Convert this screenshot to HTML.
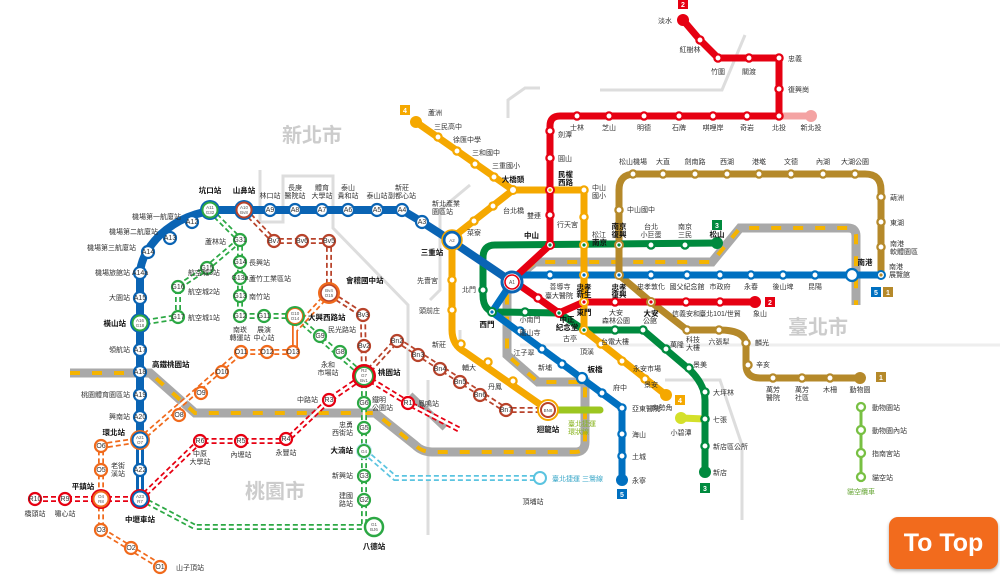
<!DOCTYPE html>
<html><head><meta charset="utf-8"><style>
body{margin:0;background:#fff;width:1000px;height:584px;overflow:hidden;font-family:"Liberation Sans","Noto Sans CJK TC",sans-serif}
svg{position:absolute;left:0;top:0}
text{font-family:"Liberation Sans","Noto Sans CJK TC",sans-serif;font-size:7px;fill:#333;text-anchor:middle}
.s{text-anchor:start}.e{text-anchor:end}.b{font-weight:bold;font-size:7.5px;fill:#111}
.st{fill:#fff;stroke-width:2.3}
.tc{fill:#fff;stroke-width:2.2}
.in{font-size:4.5px;fill:#555}
.big{font-size:20px;fill:#ccc;font-weight:bold}
#tt{position:absolute;left:889px;top:517px;width:109px;height:52px;background:#f26b1d;border-radius:9px;color:#fff;font:bold 25px "Liberation Sans",sans-serif;text-align:center;line-height:52px;box-shadow:0 2px 3px #aaa}
</style></head><body>
<svg width="1000" height="584" viewBox="0 0 1000 584">
<!-- district boundaries -->
<g fill="none" stroke="#ddd" stroke-width="3">
<path d="M260,170 L260,222 L283,222 L283,176 L333,176 L333,228 L408,305 L408,395"/>
<path d="M428,380 L428,535"/>
<path d="M600,90 L722,90 L745,35"/>
<path d="M508,118 L508,100 L525,88 L540,88"/>
<path d="M430,300 L440,290 L440,210 L470,185"/>
<path d="M0,300 L0,300"/>
<path d="M665,380 L720,380 L742,445 L742,520"/>
<path d="M520,345 L560,345 L600,345 L1000,345" stroke="#eee"/>
<path d="M460,330 L460,350"/>
</g>
<text x="312" y="142" class="big">新北市</text>
<text x="818" y="334" class="big">臺北市</text>
<text x="275" y="498" class="big">桃園市</text>

<!-- railways -->
<path d="M70,373 L150,373 L195,413 L375,413 L415,445 Q422,452 432,452 L575,452 Q585,452 585,442 L585,382 L538,382 L507,355 L507,285 L535,262 L712,262 L740,228 L848,228 Q856,228 856,236 L856,305" fill="none" stroke="#a9a9a9" stroke-width="9"/>
<path d="M70,373 L150,373 L195,413 L375,413 L415,445 Q422,452 432,452 L575,452 Q585,452 585,442 L585,382 L538,382 L507,355 L507,285 L535,262 L712,262 L740,228 L848,228 Q856,228 856,236 L856,305" fill="none" stroke="#f5b400" stroke-width="4" stroke-dasharray="10 12"/>
<path d="M410,395 L445,428" stroke="#a9a9a9" stroke-width="7"/>

<!-- Taoyuan dashed planned lines (double dashed) -->
<g fill="none" stroke-dasharray="5 3">
<path d="M35,499 L140,499 L200,441 L286,441 L329,400 L364,376 L408,403 L460,430" stroke="#e60012" stroke-width="6"/>
<path d="M35,499 L140,499 L200,441 L286,441 L329,400 L364,376 L408,403 L460,430" stroke="#fff" stroke-width="2.5" stroke-dasharray="none"/>
<path d="M210,210 L240,240 L240,316 L295,316 L364,376 L364,527 M140,498 L195,527 L364,527 M240,240 L207,268 L178,287 L178,317 L140,323" stroke="#2ca844" stroke-width="6"/>
<path d="M210,210 L240,240 L240,316 L295,316 L364,376 L364,527 M140,498 L195,527 L364,527 M240,240 L207,268 L178,287 L178,317 L140,323" stroke="#fff" stroke-width="2.5" stroke-dasharray="none"/>
<path d="M329,293 L295,330 L295,352 L241,352 L140,440 L101,446 L101,530 L160,566 M295,316 L295,352" stroke="#f06a1c" stroke-width="6"/>
<path d="M329,293 L295,330 L295,352 L241,352 L140,440 L101,446 L101,530 L160,566 M295,316 L295,352" stroke="#fff" stroke-width="2.5" stroke-dasharray="none"/>
<path d="M244,210 L274,241 L329,241 L329,293 L363,315 L364,376 M364,376 L397,340 L506,410 L548,410" stroke="#b8432b" stroke-width="6"/>
<path d="M244,210 L274,241 L329,241 L329,293 L363,315 L364,376 M364,376 L397,340 L506,410 L548,410" stroke="#fff" stroke-width="2.5" stroke-dasharray="none"/>
<path d="M364,451 L395,478 L540,478" stroke="#5bc4e0" stroke-width="6"/>
<path d="M364,451 L395,478 L540,478" stroke="#fff" stroke-width="2.5" stroke-dasharray="none"/>
</g>

<!-- MRT lines -->
<g fill="none" stroke-linejoin="round" stroke-linecap="round">
<path d="M548,410 L600,410" stroke="#9cc620" stroke-width="7"/>
<path d="M681,418 L705,419" stroke="#d4e02a" stroke-width="7"/>
<path d="M861,407 L861,477" stroke="#78c043" stroke-width="3"/>
<path d="M881,275 L881,190 Q881,174 865,174 L635,174 Q619,174 619,190 L619,275 L651,302 L687,330 L719,330 Q746,330 746,345 L746,365 Q746,378 760,378 L860,378" stroke="#b5892a" stroke-width="7"/>
<path d="M717,243 L495,245 Q483,245 483,258 L483,295 Q483,312 497,312 L559,313 L584,330 L643,330 L690,370 Q705,385 705,400 L705,472" stroke="#008a3e" stroke-width="7"/>
<path d="M416,122 L513,190 L584,190 L584,330 L666,395 M513,190 L452,238 L452,330 Q452,345 465,352 L548,410" stroke="#f5a800" stroke-width="7"/>
<path d="M881,275 L520,275 L512,282 L492,312 L622,408 L622,480" stroke="#0070c0" stroke-width="7"/>
<path d="M512,282 L450,240 L422,222 L402,210 L220,210 Q185,212 160,235 Q140,255 140,275 L140,500" stroke="#0a64b4" stroke-width="8"/>
<path d="M140,440 L140,500" stroke="#fff" stroke-width="2"/>
<path d="M779,116 L811,116" stroke="#f4a3a3" stroke-width="7"/>
<path d="M683,20 L700,40 L718,58 L779,58 L779,116 L560,116 Q550,116 550,126 L550,245 L512,280 L535,296 L559,313 L584,302 L755,302" stroke="#e60012" stroke-width="7"/>
</g>
<!-- end dots -->
<g>
<circle cx="683" cy="20" r="6" fill="#e60012"/><circle cx="811" cy="116" r="6" fill="#f4a3a3"/>
<circle cx="755" cy="302" r="6" fill="#e60012"/><circle cx="416" cy="122" r="6" fill="#f5a800"/>
<circle cx="666" cy="395" r="6" fill="#f5a800"/><circle cx="717" cy="243" r="6" fill="#008a3e"/>
<circle cx="705" cy="472" r="6" fill="#008a3e"/><circle cx="622" cy="480" r="6" fill="#0070c0"/>
<circle cx="860" cy="378" r="6" fill="#b5892a"/><circle cx="681" cy="418" r="6" fill="#d4e02a"/>
</g>
<!-- red stations -->
<g class="st" stroke="#e60012">
<circle cx="700" cy="40" r="3.6"/><circle cx="718" cy="58" r="3.6"/><circle cx="749" cy="58" r="3.6"/><circle cx="779" cy="58" r="3.6"/><circle cx="779" cy="89" r="3.6"/><circle cx="779" cy="116" r="3.6"/><circle cx="747" cy="116" r="3.6"/><circle cx="713" cy="116" r="3.6"/><circle cx="679" cy="116" r="3.6"/><circle cx="644" cy="116" r="3.6"/><circle cx="609" cy="116" r="3.6"/><circle cx="577" cy="116" r="3.6"/><circle cx="550" cy="131" r="3.6"/><circle cx="550" cy="158" r="3.6"/><circle cx="550" cy="215" r="3.6"/><circle cx="538" cy="298" r="3.6"/><circle cx="615" cy="302" r="3.6"/><circle cx="686" cy="302" r="3.6"/><circle cx="720" cy="302" r="3.6"/>
</g>
<g class="st" stroke="#f5a800">
<circle cx="438" cy="137" r="3.6"/><circle cx="457" cy="151" r="3.6"/><circle cx="475" cy="164" r="3.6"/><circle cx="494" cy="177" r="3.6"/><circle cx="493" cy="206" r="3.6"/><circle cx="474" cy="221" r="3.6"/><circle cx="452" cy="280" r="3.6"/><circle cx="452" cy="310" r="3.6"/><circle cx="461" cy="344" r="3.6"/><circle cx="488" cy="362" r="3.6"/><circle cx="513" cy="381" r="3.6"/><circle cx="584" cy="190" r="3.6"/><circle cx="584" cy="217" r="3.6"/><circle cx="601" cy="344" r="3.6"/><circle cx="622" cy="361" r="3.6"/><circle cx="645" cy="379" r="3.6"/>
</g>
<g class="st" stroke="#0070c0">
<circle cx="550" cy="275" r="3.6"/><circle cx="651" cy="275" r="3.6"/><circle cx="687" cy="275" r="3.6"/><circle cx="720" cy="275" r="3.6"/><circle cx="751" cy="275" r="3.6"/><circle cx="783" cy="275" r="3.6"/><circle cx="815" cy="275" r="3.6"/><circle cx="852" cy="275" r="6"/><circle cx="520" cy="331" r="3.6"/><circle cx="542" cy="349" r="3.6"/><circle cx="562" cy="364" r="3.6"/><circle cx="582" cy="378" r="5"/><circle cx="602" cy="393" r="3.6"/><circle cx="622" cy="408" r="3.6"/><circle cx="622" cy="434" r="3.6"/><circle cx="622" cy="456" r="3.6"/>
</g>
<g class="st" stroke="#008a3e">
<circle cx="685" cy="245" r="3.6"/><circle cx="651" cy="245" r="3.6"/><circle cx="483" cy="290" r="3.6"/><circle cx="525" cy="312" r="3.6"/><circle cx="615" cy="330" r="3.6"/><circle cx="643" cy="330" r="3.6"/><circle cx="666" cy="349" r="3.6"/><circle cx="689" cy="368" r="3.6"/><circle cx="705" cy="392" r="3.6"/><circle cx="705" cy="419" r="3.6"/><circle cx="705" cy="446" r="3.6"/>
</g>
<g class="st" stroke="#b5892a">
<circle cx="881" cy="247" r="3.6"/><circle cx="881" cy="222" r="3.6"/><circle cx="881" cy="197" r="3.6"/><circle cx="855" cy="174" r="3.6"/><circle cx="823" cy="174" r="3.6"/><circle cx="791" cy="174" r="3.6"/><circle cx="759" cy="174" r="3.6"/><circle cx="727" cy="174" r="3.6"/><circle cx="695" cy="174" r="3.6"/><circle cx="663" cy="174" r="3.6"/><circle cx="633" cy="174" r="3.6"/><circle cx="619" cy="210" r="3.6"/><circle cx="687" cy="330" r="3.6"/><circle cx="719" cy="330" r="3.6"/><circle cx="746" cy="343" r="3.6"/><circle cx="748" cy="365" r="3.6"/><circle cx="773" cy="378" r="3.6"/><circle cx="802" cy="378" r="3.6"/><circle cx="830" cy="378" r="3.6"/>
</g>
<g class="st" stroke="#78c043"><circle cx="861" cy="407" r="4"/><circle cx="861" cy="430" r="4"/><circle cx="861" cy="453" r="4"/><circle cx="861" cy="477" r="4"/></g>
<!-- transfer stations -->
<g>
<circle cx="550" cy="190" r="4" fill="#fff" stroke="#e60012" stroke-width="2"/><circle cx="550" cy="190" r="1.6" fill="#f5a800"/>
<circle cx="513" cy="190" r="4" fill="#fff" stroke="#f5a800" stroke-width="2"/>
<circle cx="550" cy="245" r="4" fill="#fff" stroke="#e60012" stroke-width="2"/><circle cx="550" cy="245" r="1.6" fill="#008a3e"/>
<circle cx="584" cy="245" r="4" fill="#fff" stroke="#f5a800" stroke-width="2"/><circle cx="584" cy="245" r="1.6" fill="#008a3e"/>
<circle cx="619" cy="245" r="4" fill="#fff" stroke="#b5892a" stroke-width="2"/><circle cx="619" cy="245" r="1.6" fill="#008a3e"/>
<circle cx="584" cy="275" r="4" fill="#fff" stroke="#f5a800" stroke-width="2"/><circle cx="584" cy="275" r="1.6" fill="#0070c0"/>
<circle cx="619" cy="275" r="4" fill="#fff" stroke="#b5892a" stroke-width="2"/><circle cx="619" cy="275" r="1.6" fill="#0070c0"/>
<circle cx="584" cy="302" r="4" fill="#fff" stroke="#f5a800" stroke-width="2"/><circle cx="584" cy="302" r="1.6" fill="#e60012"/>
<circle cx="651" cy="302" r="4" fill="#fff" stroke="#b5892a" stroke-width="2"/><circle cx="651" cy="302" r="1.6" fill="#e60012"/>
<circle cx="559" cy="313" r="4" fill="#fff" stroke="#e60012" stroke-width="2"/><circle cx="559" cy="313" r="1.6" fill="#008a3e"/>
<circle cx="584" cy="330" r="4" fill="#fff" stroke="#f5a800" stroke-width="2"/><circle cx="584" cy="330" r="1.6" fill="#008a3e"/>
<circle cx="492" cy="312" r="4" fill="#fff" stroke="#008a3e" stroke-width="2"/><circle cx="492" cy="312" r="1.6" fill="#0070c0"/>
<circle cx="881" cy="275" r="4" fill="#fff" stroke="#0070c0" stroke-width="2"/><circle cx="881" cy="275" r="1.6" fill="#b5892a"/>
<circle cx="705" cy="419" r="3.6" fill="#fff" stroke="#008a3e" stroke-width="2.3"/>
<circle cx="512" cy="282" r="10" fill="#fff" stroke="#0a64b4" stroke-width="3"/><circle cx="512" cy="282" r="7" fill="#fff" stroke="#e60012" stroke-width="1.6"/><text x="512" y="284" class="in" style="font-size:5px">A1</text>
<circle cx="452" cy="240" r="8" fill="#fff" stroke="#0a64b4" stroke-width="3"/><circle cx="452" cy="240" r="10" fill="none" stroke="#f5a800" stroke-width="1.5"/><text x="452" y="242" class="in">A2</text>
<circle cx="548" cy="410" r="10" fill="#fff" stroke="#f5a800" stroke-width="2"/><circle cx="548" cy="410" r="7" fill="#fff" stroke="#b8432b" stroke-width="2"/><text x="548" y="412" class="in">BN8</text>
<circle cx="540" cy="478" r="6" fill="#fff" stroke="#5bc4e0" stroke-width="2"/>
</g>
<!-- airport stations -->
<g stroke="#0a64b4" class="tc">
<circle cx="422" cy="222" r="6"/><circle cx="402" cy="210" r="6"/><circle cx="377" cy="210" r="6"/><circle cx="348" cy="210" r="6"/><circle cx="322" cy="210" r="6"/><circle cx="295" cy="210" r="6"/><circle cx="270" cy="210" r="6"/><circle cx="192" cy="222" r="6"/><circle cx="170" cy="238" r="6"/><circle cx="148" cy="252" r="6"/><circle cx="140" cy="273" r="6"/><circle cx="140" cy="298" r="6"/><circle cx="140" cy="350" r="6"/><circle cx="140" cy="372" r="6"/><circle cx="140" cy="395" r="6"/><circle cx="140" cy="417" r="6"/><circle cx="140" cy="470" r="6"/>
</g>
<g class="in"><text x="422" y="224">A3</text><text x="402" y="212">A4</text><text x="377" y="212">A5</text><text x="348" y="212">A6</text><text x="322" y="212">A7</text><text x="295" y="212">A8</text><text x="270" y="212">A9</text><text x="192" y="224">A12</text><text x="170" y="240">A13</text><text x="148" y="254">A14</text><text x="140" y="275">A14a</text><text x="140" y="300">A15</text><text x="140" y="352">A17</text><text x="140" y="374">A18</text><text x="140" y="397">A19</text><text x="140" y="419">A20</text><text x="140" y="472">A22</text></g>
<!-- big transfer circles -->
<g>
<circle cx="210" cy="210" r="10" fill="#0a64b4"/><circle cx="210" cy="210" r="7.5" fill="#fff" stroke="#2ca844" stroke-width="2"/><text x="210" y="209" class="in">A11</text><text x="210" y="214" class="in">G32</text>
<circle cx="244" cy="210" r="10" fill="#0a64b4"/><circle cx="244" cy="210" r="7.5" fill="#fff" stroke="#b8432b" stroke-width="2"/><text x="244" y="209" class="in">A10</text><text x="244" y="214" class="in">Bv8</text>
<circle cx="140" cy="323" r="10" fill="#0a64b4"/><circle cx="140" cy="323" r="7.5" fill="#fff" stroke="#2ca844" stroke-width="2"/><text x="140" y="322" class="in">A16</text><text x="140" y="327" class="in">G18</text>
<circle cx="140" cy="440" r="10" fill="#f06a1c"/><circle cx="140" cy="440" r="7.5" fill="#fff" stroke="#0a64b4" stroke-width="2"/><text x="140" y="439" class="in">A21</text><text x="140" y="444" class="in">O7</text>
<circle cx="140" cy="499" r="10" fill="#e60012"/><circle cx="140" cy="499" r="7.5" fill="#fff" stroke="#0a64b4" stroke-width="2"/><text x="140" y="498" class="in">A23</text><text x="140" y="503" class="in">R7</text>
<circle cx="101" cy="499" r="10" fill="#e60012"/><circle cx="101" cy="499" r="7.5" fill="#fff" stroke="#f06a1c" stroke-width="2"/><text x="101" y="498" class="in">O4</text><text x="101" y="503" class="in">R8</text>
<circle cx="329" cy="293" r="11" fill="#f06a1c"/><circle cx="329" cy="293" r="8" fill="#fff" stroke="#b8432b" stroke-width="1.5"/><text x="329" y="292" class="in">Bv4</text><text x="329" y="297" class="in">O15</text>
<circle cx="295" cy="316" r="10" fill="#2ca844"/><circle cx="295" cy="316" r="7.5" fill="#fff" stroke="#f06a1c" stroke-width="1"/><text x="295" y="315" class="in">G10</text><text x="295" y="320" class="in">O14</text>
<circle cx="364" cy="376" r="12" fill="#e60012"/><circle cx="364" cy="376" r="9.5" fill="#2ca844"/><circle cx="364" cy="376" r="8" fill="#fff"/><text x="364" y="372" class="in">R2</text><text x="364" y="377" class="in">G7</text><text x="364" y="382" class="in">Bv1</text>
<circle cx="374" cy="527" r="9" fill="#fff" stroke="#2ca844" stroke-width="2.5"/><text x="374" y="526" class="in">G1</text><text x="374" y="531" class="in">BJ6</text>
<circle cx="364" cy="451" r="8" fill="#bfe6f2"/><circle cx="364" cy="451" r="6" fill="#fff" stroke="#2ca844" stroke-width="2"/><text x="364" y="453" class="in">G4</text>
</g>
<!-- Taoyuan small stations -->
<g class="tc" stroke="#e60012"><circle cx="35" cy="499" r="6"/><circle cx="65" cy="499" r="6"/><circle cx="200" cy="441" r="6"/><circle cx="241" cy="441" r="6"/><circle cx="286" cy="439" r="6"/><circle cx="329" cy="400" r="6"/><circle cx="408" cy="403" r="6"/></g>
<g class="in"><text x="35" y="501">R10</text><text x="65" y="501">R9</text><text x="200" y="443">R6</text><text x="241" y="443">R5</text><text x="286" y="441">R4</text><text x="329" y="402">R3</text><text x="408" y="405">R1</text></g>
<g class="tc" stroke="#2ca844"><circle cx="240" cy="240" r="6"/><circle cx="240" cy="262" r="6"/><circle cx="240" cy="278" r="6"/><circle cx="240" cy="296" r="6"/><circle cx="240" cy="316" r="6"/><circle cx="264" cy="316" r="6"/><circle cx="320" cy="336" r="6"/><circle cx="340" cy="352" r="6"/><circle cx="364" cy="403" r="6"/><circle cx="364" cy="428" r="6"/><circle cx="364" cy="476" r="6"/><circle cx="364" cy="500" r="6"/><circle cx="207" cy="268" r="6"/><circle cx="178" cy="287" r="6"/><circle cx="178" cy="317" r="6"/></g>
<g class="in"><text x="240" y="242">G31</text><text x="240" y="264">G14</text><text x="240" y="280">G13a</text><text x="240" y="298">G13</text><text x="240" y="318">G12</text><text x="264" y="318">G11</text><text x="320" y="338">G9</text><text x="340" y="354">G8</text><text x="364" y="405">G6</text><text x="364" y="430">G5</text><text x="364" y="478">G3</text><text x="364" y="502">G2</text><text x="207" y="270">G15</text><text x="178" y="289">G16</text><text x="178" y="319">G17</text></g>
<g class="tc" stroke="#f06a1c"><circle cx="293" cy="352" r="6"/><circle cx="267" cy="352" r="6"/><circle cx="241" cy="352" r="6"/><circle cx="222" cy="372" r="6"/><circle cx="201" cy="393" r="6"/><circle cx="179" cy="415" r="6"/><circle cx="101" cy="446" r="6"/><circle cx="101" cy="470" r="6"/><circle cx="101" cy="530" r="6"/><circle cx="131" cy="548" r="6"/><circle cx="160" cy="567" r="6"/></g>
<g class="in"><text x="293" y="354">O13</text><text x="267" y="354">O12</text><text x="241" y="354">O11</text><text x="222" y="374">O10</text><text x="201" y="395">O9</text><text x="179" y="417">O8</text><text x="101" y="448">O6</text><text x="101" y="472">O5</text><text x="101" y="532">O3</text><text x="131" y="550">O2</text><text x="160" y="569">O1</text></g>
<g class="tc" stroke="#b8432b"><circle cx="274" cy="241" r="6"/><circle cx="302" cy="241" r="6"/><circle cx="329" cy="241" r="6"/><circle cx="363" cy="315" r="6"/><circle cx="364" cy="346" r="6"/><circle cx="397" cy="341" r="6"/><circle cx="418" cy="355" r="6"/><circle cx="440" cy="369" r="6"/><circle cx="460" cy="382" r="6"/><circle cx="480" cy="395" r="6"/><circle cx="506" cy="410" r="6"/></g>
<g class="in"><text x="274" y="243">Bv7</text><text x="302" y="243">Bv6</text><text x="329" y="243">Bv5</text><text x="363" y="317">Bv3</text><text x="364" y="348">Bv2</text><text x="397" y="343">Bn2</text><text x="418" y="357">Bn3</text><text x="440" y="371">Bn4</text><text x="460" y="384">Bn5</text><text x="480" y="397">Bn6</text><text x="506" y="412">Bn7</text></g>

<!-- line number badges -->
<g font-size="7" font-weight="bold">
<rect x="678" y="0" width="10" height="9" fill="#e60012"/><text x="683" y="7" style="fill:#fff;font-weight:bold">2</text>
<rect x="765" y="297" width="10" height="10" fill="#e60012"/><text x="770" y="305" style="fill:#fff;font-weight:bold">2</text>
<rect x="400" y="105" width="10" height="10" fill="#f5a800"/><text x="405" y="113" style="fill:#fff;font-weight:bold">4</text>
<rect x="675" y="395" width="10" height="10" fill="#f5a800"/><text x="680" y="403" style="fill:#fff;font-weight:bold">4</text>
<rect x="712" y="220" width="10" height="10" fill="#008a3e"/><text x="717" y="228" style="fill:#fff;font-weight:bold">3</text>
<rect x="700" y="483" width="10" height="10" fill="#008a3e"/><text x="705" y="491" style="fill:#fff;font-weight:bold">3</text>
<rect x="617" y="489" width="10" height="10" fill="#0070c0"/><text x="622" y="497" style="fill:#fff;font-weight:bold">5</text>
<rect x="871" y="287" width="10" height="10" fill="#0070c0"/><text x="876" y="295" style="fill:#fff;font-weight:bold">5</text>
<rect x="883" y="287" width="10" height="10" fill="#b5892a"/><text x="888" y="295" style="fill:#fff;font-weight:bold">1</text>
<rect x="876" y="372" width="10" height="10" fill="#b5892a"/><text x="881" y="380" style="fill:#fff;font-weight:bold">1</text>
</g>

<!-- labels -->
<g>
<text x="672" y="23" class="e">淡水</text><text x="690" y="52">紅樹林</text><text x="718" y="74">竹圍</text><text x="749" y="74">關渡</text><text x="788" y="61" class="s">忠義</text><text x="788" y="92" class="s">復興崗</text>
<text x="779" y="130">北投</text><text x="811" y="130">新北投</text><text x="747" y="130">奇岩</text><text x="713" y="130">唭哩岸</text><text x="679" y="130">石牌</text><text x="644" y="130">明德</text><text x="609" y="130">芝山</text><text x="577" y="130">士林</text>
<text x="558" y="137" class="s">劍潭</text><text x="558" y="161" class="s">圓山</text><text x="558" y="177" class="s b">民權</text><text x="558" y="185" class="s b">西路</text><text x="541" y="218" class="e">雙連</text><text x="539" y="238" class="e b">中山</text>
<text x="545" y="298" class="s">臺大醫院</text><text x="567" y="322" class="b">中正</text><text x="567" y="330" class="b">紀念堂</text><text x="584" y="315" class="b">東門</text><text x="616" y="315">大安</text><text x="616" y="323">森林公園</text><text x="651" y="316" class="b">大安</text><text x="686" y="316">信義安和</text><text x="720" y="316">臺北101/世貿</text><text x="760" y="316">象山</text>
<text x="428" y="115" class="s">蘆洲</text><text x="448" y="129">三民高中</text><text x="467" y="142">徐匯中學</text><text x="486" y="155">三和國中</text><text x="506" y="168">三重國小</text><text x="513" y="182" class="b">大橋頭</text><text x="503" y="213" class="s">台北橋</text><text x="474" y="235">菜寮</text><text x="432" y="255" class="b">三重站</text><text x="438" y="283" class="e">先嗇宮</text><text x="440" y="313" class="e">頭前庄</text><text x="446" y="347" class="e">新莊</text><text x="476" y="370" class="e">輔大</text><text x="502" y="389" class="e">丹鳳</text><text x="548" y="432" class="b">迴龍站</text>
<text x="592" y="190" class="s">中山</text><text x="592" y="198" class="s">國小</text><text x="578" y="227" class="e">行天宮</text><text x="592" y="237" class="s">松江</text><text x="592" y="245" class="s b">南京</text><text x="584" y="290" class="b">忠孝</text><text x="584" y="297" class="b">新生</text><text x="570" y="341">古亭</text><text x="587" y="354">頂溪</text><text x="633" y="371" class="s">永安市場</text><text x="651" y="387">景安</text><text x="662" y="410">南勢角</text>
<text x="560" y="289">善導寺</text><text x="619" y="290" class="b">忠孝</text><text x="619" y="297" class="b">復興</text><text x="651" y="289">忠孝敦化</text><text x="687" y="289">國父紀念館</text><text x="720" y="289">市政府</text><text x="751" y="289">永春</text><text x="783" y="289">後山埤</text><text x="815" y="289">昆陽</text><text x="865" y="265" class="b">南港</text><text x="889" y="269" class="s">南港</text><text x="889" y="277" class="s">展覽館</text>
<text x="487" y="327" class="b">西門</text><text x="530" y="335">龍山寺</text><text x="524" y="355">江子翠</text><text x="545" y="370">新埔</text><text x="595" y="372" class="b">板橋</text><text x="613" y="390" class="s">府中</text><text x="632" y="411" class="s">亞東醫院</text><text x="632" y="437" class="s">海山</text><text x="632" y="459" class="s">土城</text><text x="632" y="483" class="s">永寧</text>
<text x="717" y="237" class="b">松山</text><text x="685" y="229">南京</text><text x="685" y="237">三民</text><text x="651" y="229">台北</text><text x="651" y="237">小巨蛋</text><text x="619" y="229" class="b">南京</text><text x="619" y="237" class="b">復興</text><text x="469" y="292">北門</text><text x="530" y="322">小南門</text><text x="615" y="344">台電大樓</text><text x="650" y="323">公館</text><text x="670" y="347" class="s">萬隆</text><text x="693" y="367" class="s">景美</text><text x="713" y="395" class="s">大坪林</text><text x="713" y="422" class="s">七張</text><text x="713" y="449" class="s">新店區公所</text><text x="713" y="475" class="s">新店</text><text x="681" y="435">小碧潭</text>
<text x="633" y="164">松山機場</text><text x="663" y="164">大直</text><text x="695" y="164">劍南路</text><text x="727" y="164">西湖</text><text x="759" y="164">港墘</text><text x="791" y="164">文德</text><text x="823" y="164">內湖</text><text x="855" y="164">大湖公園</text><text x="890" y="200" class="s">葫洲</text><text x="890" y="225" class="s">東湖</text><text x="890" y="246" class="s">南港</text><text x="890" y="254" class="s">軟體園區</text><text x="627" y="212" class="s">中山國中</text>
<text x="693" y="342">科技</text><text x="693" y="350">大樓</text><text x="719" y="344">六張犁</text><text x="755" y="345" class="s">麟光</text><text x="756" y="367" class="s">辛亥</text><text x="773" y="392">萬芳</text><text x="773" y="400">醫院</text><text x="802" y="392">萬芳</text><text x="802" y="400">社區</text><text x="830" y="392">木柵</text><text x="860" y="392">動物園</text>
<text x="872" y="410" class="s">動物園站</text><text x="872" y="433" class="s">動物園內站</text><text x="872" y="456" class="s">指南宮站</text><text x="872" y="480" class="s">貓空站</text><text x="861" y="494" style="fill:#6aa83a">貓空纜車</text>
<text x="568" y="426" class="s" style="fill:#8ab520">臺北捷運</text><text x="568" y="434" class="s" style="fill:#8ab520">環狀線</text><text x="552" y="481" class="s" style="fill:#3aa7c8">臺北捷運 三鶯線</text><text x="533" y="504">頂埔站</text>
<text x="210" y="193" class="b">坑口站</text><text x="244" y="193" class="b">山鼻站</text><text x="270" y="198">林口站</text><text x="295" y="190">長庚</text><text x="295" y="198">醫院站</text><text x="322" y="190">體育</text><text x="322" y="198">大學站</text><text x="348" y="190">泰山</text><text x="348" y="198">貴和站</text><text x="377" y="198">泰山站</text><text x="402" y="190">新莊</text><text x="402" y="198">副都心站</text><text x="432" y="206" class="s">新北產業</text><text x="432" y="214" class="s">園區站</text>
<text x="181" y="219" class="e">機場第一航廈站</text><text x="158" y="234" class="e">機場第二航廈站</text><text x="136" y="250" class="e">機場第三航廈站</text><text x="130" y="275" class="e">機場旅館站</text><text x="130" y="300" class="e">大園站</text><text x="126" y="326" class="e b">橫山站</text><text x="130" y="352" class="e">領航站</text><text x="152" y="367" class="s b">高鐵桃園站</text><text x="130" y="397" class="e">桃園體育園區站</text><text x="130" y="419" class="e">興南站</text><text x="125" y="435" class="e b">環北站</text><text x="125" y="468" class="e">老街</text><text x="125" y="476" class="e">溪站</text><text x="140" y="522" class="b">中壢車站</text>
<text x="83" y="489" class="b">平鎮站</text><text x="35" y="516">橋頭站</text><text x="65" y="516">嘯心站</text><text x="176" y="570" class="s">山子頂站</text><text x="374" y="549" class="b">八德站</text>
<text x="318" y="402" class="e">中路站</text><text x="418" y="406" class="s">鳳鳴站</text><text x="200" y="456">中原</text><text x="200" y="464">大學站</text><text x="241" y="457">內壢站</text><text x="286" y="455">永豐站</text><text x="378" y="375" class="s b">桃園站</text><text x="372" y="402" class="s">鐵明</text><text x="372" y="410" class="s">公園站</text><text x="353" y="427" class="e">忠勇</text><text x="353" y="435" class="e">西街站</text><text x="353" y="453" class="e b">大湳站</text><text x="353" y="478" class="e">新興站</text><text x="353" y="498" class="e">建國</text><text x="353" y="506" class="e">路站</text>
<text x="346" y="283" class="s b">會稽國中站</text><text x="308" y="320" class="s b">大興西路站</text><text x="328" y="332" class="s">民光路站</text><text x="328" y="367">永和</text><text x="328" y="375">市場站</text>
<text x="240" y="332">南崁</text><text x="240" y="340">轉運站</text><text x="264" y="332">展演</text><text x="264" y="340">中心站</text><text x="249" y="265" class="s">長興站</text><text x="249" y="281" class="s">蘆竹工業區站</text><text x="249" y="299" class="s">南竹站</text><text x="226" y="244" class="e">蘆林站</text><text x="188" y="275" class="s">航空城3站</text><text x="188" y="294" class="s">航空城2站</text><text x="188" y="320" class="s">航空城1站</text>
</g>
</svg>
<div id="tt">To Top</div>
</body></html>
